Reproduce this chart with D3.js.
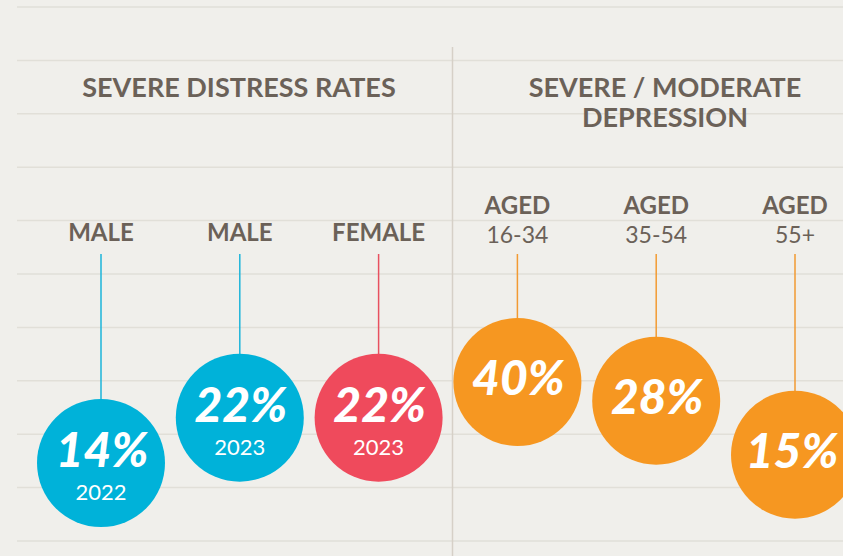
<!DOCTYPE html>
<html>
<head>
<meta charset="utf-8">
<script src="https://cdn.jsdelivr.net/npm/d3@7"></script>
<style>
  html, body { margin: 0; padding: 0; background: #f0efeb; }
  svg { display: block; }
</style>
</head>
<body>
<svg id="chart" width="843" height="556"></svg>
<script>
// ---- data ----
const panelTitles = [["SEVERE DISTRESS RATES"], ["SEVERE / MODERATE", "DEPRESSION"]];
const categories = ["MALE", "MALE", "FEMALE", "AGED", "AGED", "AGED"];
const subLabels = ["", "", "", "16-34", "35-54", "55+"];
const panelOf = [0, 0, 0, 1, 1, 1];
const values = [14, 22, 22, 40, 28, 15];
const years = ["2022", "2023", "2023", "", "", ""];
const colorKeys = ["male", "male", "female", "age", "age", "age"];

// ---- styles ----
const W = 843, H = 556;
const bg = "#f0efeb";
const ruleColor = "#e1dfd8";
const textColor = "#6b6158";
const fills = { male: "#00b2d9", female: "#ef4a5c", age: "#f69721" };
const strings = { male: "#1db4da", female: "#e8505f", age: "#f29a32" };
const R = 64;

const svg = d3.select("#chart");
svg.append("rect").attr("width", W).attr("height", H).attr("fill", bg);

// background ruled lines
const rules = d3.range(11).map(i => 7 + i * 53.4);
svg.append("g").selectAll("line").data(rules).join("line")
  .attr("x1", 17).attr("x2", W)
  .attr("y1", d => d).attr("y2", d => d)
  .attr("stroke", ruleColor).attr("stroke-width", 1.5);

// divider
svg.append("line").attr("x1", 452.5).attr("x2", 452.5).attr("y1", 47).attr("y2", H)
  .attr("stroke", "#d6d0c7").attr("stroke-width", 1.5);

// scales
const idx = d3.range(values.length);
const x = d3.scalePoint().domain(idx).range([101, 795]);
const y = d3.scalePow().exponent(-1).domain([14, 40]).range([463, 382]);

// panel titles
const titleCenters = [239, 665];
panelTitles.forEach((lines, p) => {
  const t = svg.append("text")
    .attr("text-anchor", "middle")
    .attr("font-family", "Lato, 'Open Sans', sans-serif")
    .attr("font-weight", 700)
    .attr("font-size", 27)
    .attr("fill", textColor);
  lines.forEach((ln, j) => {
    t.append("tspan").attr("x", titleCenters[p]).attr("y", 97 + j * 30).text(ln);
  });
});

// category labels
const g = svg.append("g");
const item = g.selectAll("g.item").data(idx).join("g").attr("class", "item");

item.append("text")
  .attr("x", i => x(i))
  .attr("y", i => subLabels[i] ? 214 : 241)
  .attr("text-anchor", "middle")
  .attr("font-family", "Lato, 'Open Sans', sans-serif")
  .attr("font-weight", 700)
  .attr("font-size", 24)
  .attr("fill", textColor)
  .text(i => categories[i]);

item.filter(i => subLabels[i]).append("text")
  .attr("x", i => x(i))
  .attr("y", 243)
  .attr("text-anchor", "middle")
  .attr("font-family", "Lato, 'Open Sans', sans-serif")
  .attr("font-weight", 400)
  .attr("font-size", 23)
  .attr("fill", textColor)
  .text(i => subLabels[i]);

// strings
item.append("line")
  .attr("x1", i => x(i)).attr("x2", i => x(i))
  .attr("y1", 254).attr("y2", i => y(values[i]) - R + 1)
  .attr("stroke", i => strings[colorKeys[i]])
  .attr("stroke-width", 1.5);

// circles
item.append("circle")
  .attr("cx", i => x(i))
  .attr("cy", i => y(values[i]))
  .attr("r", R)
  .attr("fill", i => fills[colorKeys[i]]);

// percent text
item.append("text")
  .attr("x", i => x(i) + (i === values.length - 1 ? -3 : 1))
  .attr("y", i => y(values[i]) + (years[i] ? 4 : 13))
  .attr("text-anchor", "middle")
  .attr("fill", "#ffffff")
  .attr("font-family", "Lato, sans-serif")
  .attr("font-weight", 900)
  .attr("font-style", "italic")
  .attr("font-size", 48)
  .text(i => values[i] + "%");

// year text
item.filter(i => years[i]).append("text")
  .attr("x", i => x(i))
  .attr("y", i => y(values[i]) + 37)
  .attr("text-anchor", "middle")
  .attr("fill", "#ffffff")
  .attr("font-family", "Lato, sans-serif")
  .attr("font-weight", 400)
  .attr("font-size", 22)
  .text(i => years[i]);
</script>
</body>
</html>
